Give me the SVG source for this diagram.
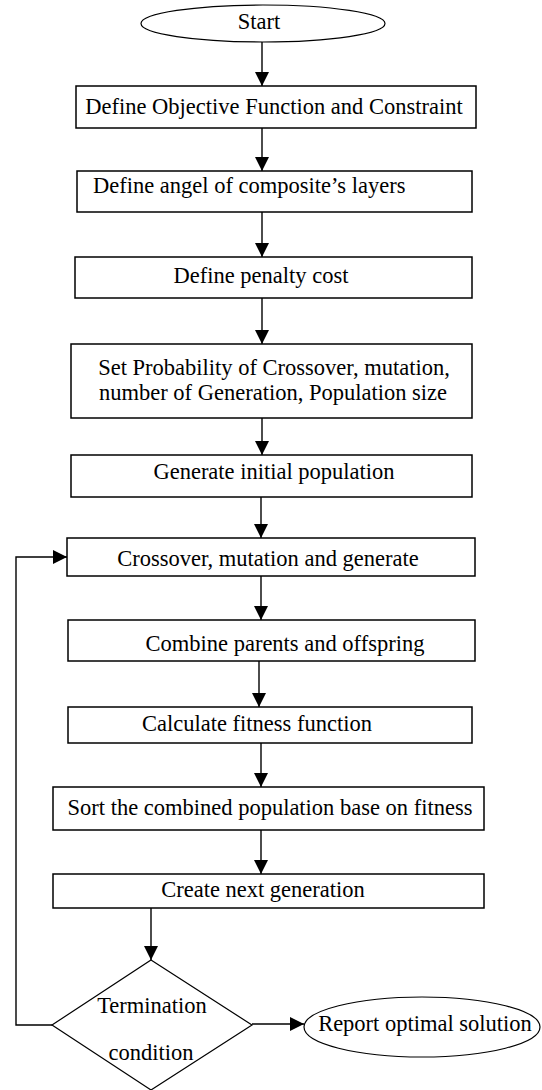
<svg xmlns="http://www.w3.org/2000/svg" width="542" height="1090" viewBox="0 0 542 1090">
<style>
.box{fill:#fff;stroke:#000;stroke-width:1.5}
.shape{fill:#fff;stroke:#000;stroke-width:1.2}
.t{font-family:"Liberation Serif","Times New Roman",serif;font-size:22.5px;fill:#000;text-anchor:middle}
.l{text-anchor:start}
.c{fill:none;stroke:#000;stroke-width:1.4}
</style>
<defs>
<marker id="ah" markerUnits="userSpaceOnUse" markerWidth="14" markerHeight="14" refX="14" refY="7" orient="auto">
<path d="M0,0 L14,7 L0,14 z" fill="#000"/>
</marker>
</defs>
<rect width="542" height="1090" fill="#fff"/>
<g id="connectors">
<line class="c" x1="262" y1="42" x2="262" y2="86" marker-end="url(#ah)"/>
<line class="c" x1="262" y1="128" x2="262" y2="171" marker-end="url(#ah)"/>
<line class="c" x1="262" y1="212" x2="262" y2="257" marker-end="url(#ah)"/>
<line class="c" x1="262" y1="298" x2="262" y2="344" marker-end="url(#ah)"/>
<line class="c" x1="262" y1="418" x2="262" y2="455" marker-end="url(#ah)"/>
<line class="c" x1="261" y1="497" x2="261" y2="538" marker-end="url(#ah)"/>
<line class="c" x1="261" y1="576" x2="261" y2="620" marker-end="url(#ah)"/>
<line class="c" x1="259" y1="661" x2="259" y2="707" marker-end="url(#ah)"/>
<line class="c" x1="261" y1="743" x2="261" y2="787" marker-end="url(#ah)"/>
<line class="c" x1="261" y1="830" x2="261" y2="874" marker-end="url(#ah)"/>
<line class="c" x1="151" y1="908" x2="151" y2="960" marker-end="url(#ah)"/>
<line class="c" x1="252" y1="1024" x2="304" y2="1024" marker-end="url(#ah)"/>
<polyline class="c" points="52,1025 16,1025 16,557 67,557" marker-end="url(#ah)"/>
</g>
<g id="start">
<ellipse class="shape" cx="263" cy="23.5" rx="122" ry="18.5"/>
<text class="t" x="259" y="29">Start</text>
</g>
<g id="objective">
<rect class="box" x="76" y="86" width="400" height="42"/>
<text class="t" x="274" y="114">Define Objective Function and Constraint</text>
</g>
<g id="angle">
<rect class="box" x="77" y="171" width="395" height="41"/>
<text class="t l" x="93" y="193">Define angel of composite’s layers</text>
</g>
<g id="penalty">
<rect class="box" x="75" y="257" width="397" height="41"/>
<text class="t" x="261" y="283">Define penalty cost</text>
</g>
<g id="params">
<rect class="box" x="71" y="344" width="401" height="74"/>
<text class="t" x="274" y="375">Set Probability of Crossover, mutation,</text>
<text class="t" x="273" y="400">number of Generation, Population size</text>
</g>
<g id="initpop">
<rect class="box" x="71" y="455" width="401" height="42"/>
<text class="t" x="274" y="479">Generate initial population</text>
</g>
<g id="crossover">
<rect class="box" x="67" y="538" width="408" height="38"/>
<text class="t" x="268" y="566">Crossover, mutation and generate</text>
</g>
<g id="combine">
<rect class="box" x="68" y="620" width="407" height="41"/>
<text class="t" x="285" y="651">Combine parents and offspring</text>
</g>
<g id="fitness">
<rect class="box" x="68" y="707" width="404" height="36"/>
<text class="t" x="257" y="731">Calculate fitness function</text>
</g>
<g id="sort">
<rect class="box" x="53" y="787" width="431" height="43"/>
<text class="t" x="270" y="815">Sort the combined population base on fitness</text>
</g>
<g id="nextgen">
<rect class="box" x="53" y="874" width="431" height="34"/>
<text class="t" x="263" y="897">Create next generation</text>
</g>
<g id="termination">
<polygon class="shape" points="151,960 252,1025 151,1090 52,1025"/>
<text class="t" x="152" y="1013">Termination</text>
<text class="t" x="151" y="1060">condition</text>
</g>
<g id="report">
<ellipse class="shape" cx="422" cy="1027" rx="118" ry="30"/>
<text class="t" x="425" y="1031">Report optimal solution</text>
</g>
</svg>
